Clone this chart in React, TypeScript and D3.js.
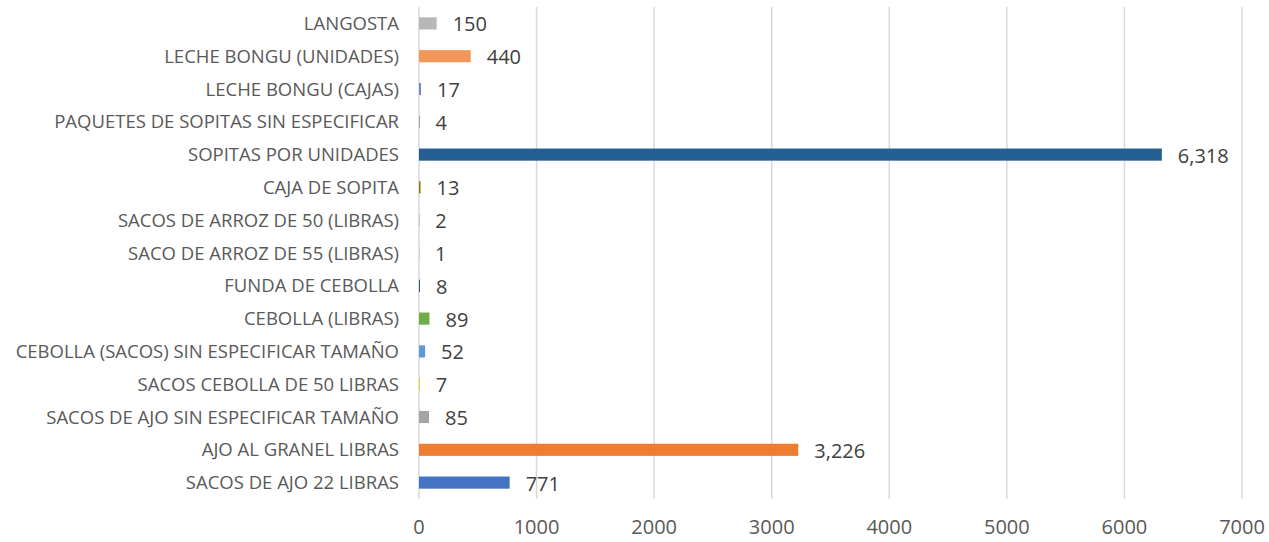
import React from "react";
import * as d3 from "d3";

const categories = [
  "LANGOSTA",
  "LECHE BONGU (UNIDADES)",
  "LECHE BONGU (CAJAS)",
  "PAQUETES DE SOPITAS SIN ESPECIFICAR",
  "SOPITAS POR UNIDADES",
  "CAJA DE SOPITA",
  "SACOS DE ARROZ DE 50 (LIBRAS)",
  "SACO DE ARROZ DE 55 (LIBRAS)",
  "FUNDA DE CEBOLLA",
  "CEBOLLA (LIBRAS)",
  "CEBOLLA (SACOS) SIN ESPECIFICAR TAMAÑO",
  "SACOS CEBOLLA DE 50 LIBRAS",
  "SACOS DE AJO SIN ESPECIFICAR TAMAÑO",
  "AJO AL GRANEL LIBRAS",
  "SACOS DE AJO 22 LIBRAS",
];
const values = [150, 440, 17, 4, 6318, 13, 2, 1, 8, 89, 52, 7, 85, 3226, 771];
const colors = [
  "#B7B7B7", "#F1975A", "#698ED0", "#43682B", "#255E91", "#997300", "#636363",
  "#9E480E", "#264478", "#70AD47", "#5B9BD5", "#FFC000", "#A5A5A5", "#ED7D31", "#4472C4",
];
const xTicks = [0, 1000, 2000, 3000, 4000, 5000, 6000, 7000];

const W = 1269;
const H = 542;
const FONT = "'Open Sans', sans-serif";

export default function App() {
  const x = d3.scaleLinear().domain([0, 7000]).range([419, 1242]);
  const y = d3.scaleBand<string>().domain(categories).range([7, 499]).paddingInner(0.63).paddingOuter(0.315);
  const fmt = d3.format(",");
  return (
    <svg width={W} height={H} style={{ position: "absolute", left: 0, top: 0, background: "#fff" }}>
      {xTicks.map((t) => (
        <g key={t}>
          <line x1={x(t)} x2={x(t)} y1={7} y2={499} stroke="#D9D9D9" strokeWidth={1.5} />
          <text x={x(t)} y={534} textAnchor="middle" fontFamily={FONT} fontSize={20} fill="#595959">
            {t}
          </text>
        </g>
      ))}
      {categories.map((c, i) => {
        const yy = y(c)!;
        const bw = y.bandwidth();
        return (
          <g key={c}>
            <rect x={x(0)} y={yy} width={Math.max(0, x(values[i]) - x(0))} height={bw} fill={colors[i]} />
            <text x={399} y={yy + bw / 2 + 6.5} textAnchor="end" fontFamily={FONT} fontSize={18.5} fill="#595959">
              {c}
            </text>
            <text x={x(values[i]) + 16} y={yy + bw / 2 + 8} fontFamily={FONT} fontSize={20} fill="#404040">
              {fmt(values[i])}
            </text>
          </g>
        );
      })}
    </svg>
  );
}
